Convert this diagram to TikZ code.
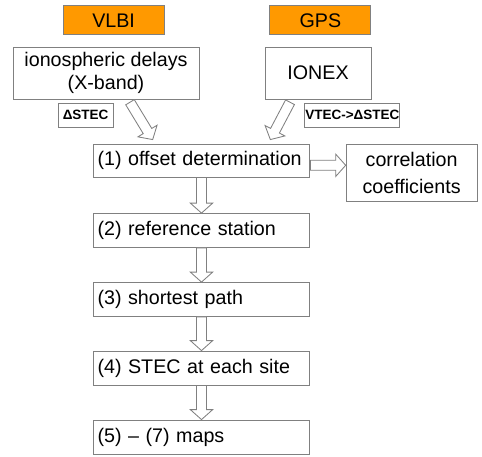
\documentclass[tikz,border=0pt]{standalone}
\usepackage{fontspec}
\setmainfont{Liberation Sans}
\usetikzlibrary{calc}

\definecolor{srcorange}{HTML}{FF9900}

% hollow block arrow from #1 to #2 (tail, tip)
\newcommand{\fatarrow}[2]{%
  \coordinate (fa-s) at #1;
  \coordinate (fa-e) at #2;
  \coordinate (fa-h) at ($(fa-e)!0.25cm!(fa-s)$);
  \draw[hollow] ($(fa-s)!0.125cm!90:(fa-e)$) -- ($(fa-h)!0.125cm!90:(fa-e)$)
    -- ($(fa-h)!0.28cm!90:(fa-e)$) -- (fa-e)
    -- ($(fa-h)!0.28cm!-90:(fa-e)$) -- ($(fa-h)!0.125cm!-90:(fa-e)$)
    -- ($(fa-s)!0.125cm!-90:(fa-e)$) -- cycle;
}

\begin{document}
\begin{tikzpicture}[
  box/.style={draw=black!50, line width=0.6pt, fill=white, inner sep=0pt, align=center,
              font=\fontsize{14}{16.8}\selectfont},
  src/.style={box, fill=srcorange, minimum width=2.525cm, minimum height=0.725cm},
  stepbox/.style={box, minimum height=0.85cm, text width=5.2cm, align=left, inner xsep=0.11cm},
  tag/.style={box, minimum height=0.6cm, font=\fontsize{9.6}{11}\selectfont\bfseries},
  hollow/.style={draw=black!50, line width=0.6pt, fill=white},
]
\useasboundingbox (0,0) rectangle (12.05,-11.4);

% data sources
\node[src] (V) at (2.84,-0.51) {VLBI};
\node[src] (G) at (8.01,-0.51) {GPS};
\node[box, minimum width=4.65cm, minimum height=1.3cm] (D) at (2.65,-1.825) {ionospheric delays\\(X-band)};
\node[box, minimum width=2.65cm, minimum height=1.3cm] (X) at (7.95,-1.825) {IONEX};
\node[tag, minimum width=1.375cm] (dS) at (2.14,-2.875) {ΔSTEC};
\node[tag, minimum width=2.375cm] (vS) at (8.81,-2.875) {VTEC->ΔSTEC};

% processing steps
\node[stepbox, minimum height=0.825cm] (S1) at (5.0375,-4.0125) {(1) offset determination};
\node[stepbox] (S2) at (5.0375,-5.7625) {(2) reference station};
\node[stepbox] (S3) at (5.0375,-7.4875) {(3) shortest path};
\node[stepbox] (S4) at (5.0375,-9.2) {(4) STEC at each site};
\node[stepbox] (S5) at (5.0375,-10.925) {(5) – (7) maps};
\node[box, minimum width=3.275cm, minimum height=1.425cm, font=\fontsize{14}{19.2}\selectfont]
  (C) at (10.29,-4.3125) {correlation\\coefficients};

% arrows
\fatarrow{([xshift=0.6cm,yshift=-0.07cm]D.south)}{([xshift=1.5cm,yshift=0.1cm]S1.north west)}
\fatarrow{([xshift=-0.7cm,yshift=-0.07cm]X.south)}{([xshift=-1cm,yshift=0.1cm]S1.north east)}
\fatarrow{([yshift=-0.12cm]S1.east)}{([yshift=-0.12cm]S1.east -| C.west)}
\fatarrow{(S1.south)}{(S2.north)}
\fatarrow{(S2.south)}{(S3.north)}
\fatarrow{(S3.south)}{(S4.north)}
\fatarrow{(S4.south)}{(S5.north)}

\end{tikzpicture}
\end{document}
